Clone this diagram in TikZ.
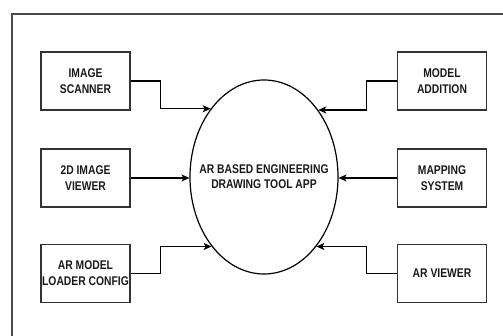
\documentclass[tikz,border=0pt]{standalone}
\usepackage{fontspec}
\newfontfamily\nf{Liberation Sans}[FakeStretch=0.82]
\usetikzlibrary{shapes.geometric,arrows.meta}
\tikzset{
  boxnode/.style={draw=black!80, line width=1.3pt, minimum width=89pt, minimum height=58pt, inner sep=0pt, align=center, font=\nf\bfseries\fontsize{12.6}{16}\selectfont, text=black!90},
  lbl/.style={align=center, inner sep=0pt, font=\nf\bfseries\fontsize{12.6}{15}\selectfont, text=black!90},
  conn/.style={line width=1.1pt, -{Stealth[length=8pt,width=7pt,inset=2pt]}},
}
\begin{document}
\begin{tikzpicture}[x=1pt,y=1pt]
\useasboundingbox (0,0) rectangle (503,336);
% frame
\coordinate (ftl) at (12,322);
\coordinate (ftr) at (503,322);
\coordinate (fbl) at (12,0);
\draw[black!70, line width=1.5pt] (ftr) -- (ftl) -- (fbl);
% ellipse
\node[ellipse, draw=black, line width=1.2pt, minimum width=148pt, minimum height=194pt, inner sep=0pt] (el) at (264,159) {};
\node[lbl] (elt) at (el.center) {AR BASED ENGINEERING\\DRAWING TOOL APP};
% left boxes
\node[boxnode] (sc) at (85.5,255) {IMAGE\\SCANNER};
\node[boxnode] (vw) at (85.5,158) {2D IMAGE\\VIEWER};
\node[boxnode] (ld) at (85.5,62.5) {AR MODEL\\LOADER CONFIG};
% right boxes
\node[boxnode] (ma) at (442,255) {MODEL\\ADDITION};
\node[boxnode] (mp) at (442,158) {MAPPING\\SYSTEM};
\node[boxnode] (av) at (442,62.5) {AR VIEWER};
% connectors
\draw[conn] (sc.east) -- ++(30,0) |- (el.128.6);
\draw[conn] (vw.east) -- (vw.east -| el.west);
\draw[conn] (ld.east) -- ++(30,0) |- (el.233);
\draw[conn] (ma.west) -- ++(-30,0) |- (el.51.4);
\draw[conn] (mp.west) -- (mp.west -| el.east);
\draw[conn] (av.west) -- ++(-30,0) |- (el.307);
\end{tikzpicture}
\end{document}
